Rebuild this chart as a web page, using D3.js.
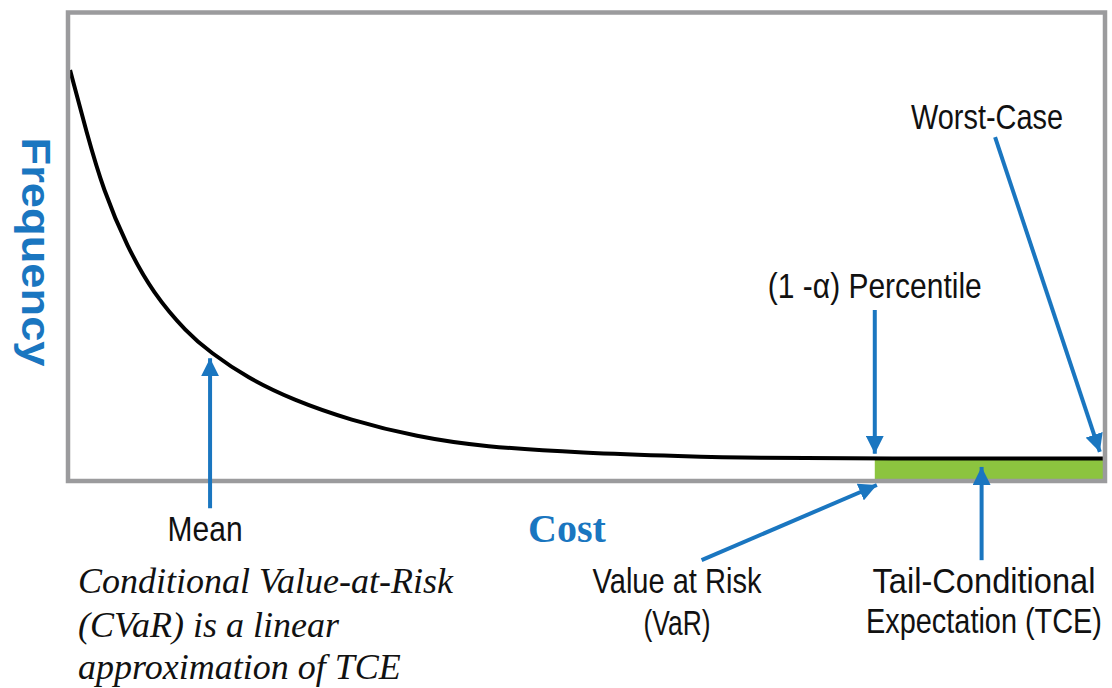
<!DOCTYPE html>
<html>
<head>
<meta charset="utf-8">
<script src="https://cdn.jsdelivr.net/npm/d3@7"></script>
<style>
  html, body { margin: 0; padding: 0; background: #fff; }
  svg { display: block; }
  .lbl { font-family: "Liberation Sans Narrow", "Arial Narrow", "Liberation Sans", sans-serif; fill: #111; }
</style>
</head>
<body>
<svg id="chart" width="1112" height="688"></svg>
<script>
// Loss distribution: cost (x) vs. frequency (y)
const costValues = [0.02, 0.18, 0.34, 0.57, 0.82, 1.15, 1.37, 1.73, 2.17, 2.72, 3.37, 4.0, 4.97, 5.93, 6.6, 7.78, 9.98];
const freqValues = [0.877, 0.743, 0.621, 0.50, 0.401, 0.316, 0.275, 0.22, 0.173, 0.130, 0.094, 0.073, 0.060, 0.053, 0.049, 0.048, 0.048];

// Key points on the cost axis
const meanCost = 1.37;
const varCost = 7.78;     // (1 - alpha) percentile
const worstCost = 10;
const tailHeight = 0.045; // height of the tail band

// Annotation arrows: start and tip, in (cost, frequency)
const arrowNames = ["mean", "percentile", "worst", "var", "tce"];
const arrowFrom = [[1.37, -0.058], [7.78, 0.365], [8.94, 0.734], [6.11, -0.169], [8.81, -0.169]];
const arrowTo   = [[1.37, 0.262], [7.78, 0.058], [9.95, 0.062], [7.80, -0.0085], [8.81, 0.030]];

// Label text lines
const meanLabel = ["Mean"];
const percentileLabel = ["(1 -\u03b1) Percentile"];
const worstLabel = ["Worst-Case"];
const varLabel = ["Value at Risk", "(VaR)"];
const tceLabel = ["Tail-Conditional", "Expectation (TCE)"];
const noteLines = ["Conditional Value-at-Risk", "(CVaR) is a linear", "approximation of TCE"];

const svg = d3.select("#chart");
const blue = "#1a76c0";

const x = d3.scaleLinear().domain([0, 10]).range([68, 1105]);
const y = d3.scaleLinear().domain([0, 1]).range([481, 12.5]);

// Tail band between VaR and worst case
svg.append("rect")
  .attr("x", x(varCost))
  .attr("y", y(tailHeight))
  .attr("width", x(worstCost) - x(varCost))
  .attr("height", y(0) - y(tailHeight))
  .attr("fill", "#8cc43f");

// Density curve
const line = d3.line()
  .x((d, i) => x(costValues[i]))
  .y(d => y(d))
  .curve(d3.curveBasis);

svg.append("path")
  .datum(freqValues)
  .attr("d", line)
  .attr("fill", "none")
  .attr("stroke", "#000")
  .attr("stroke-width", 4)
  .attr("stroke-linejoin", "round");

// Plot frame
svg.append("rect")
  .attr("x", x(0))
  .attr("y", y(1))
  .attr("width", x(10) - x(0))
  .attr("height", y(0) - y(1))
  .attr("fill", "none")
  .attr("stroke", "#9b9b9d")
  .attr("stroke-width", 4.5);

// Arrowhead
svg.append("defs").append("marker")
  .attr("id", "head")
  .attr("markerUnits", "userSpaceOnUse")
  .attr("viewBox", "0 0 18 18")
  .attr("refX", 18).attr("refY", 9)
  .attr("markerWidth", 18).attr("markerHeight", 18)
  .attr("orient", "auto")
  .append("path")
  .attr("d", "M0,0 L18,9 L0,18 Z")
  .attr("fill", blue);

svg.append("g").selectAll("line")
  .data(arrowNames)
  .join("line")
  .attr("x1", (d, i) => x(arrowFrom[i][0]))
  .attr("y1", (d, i) => y(arrowFrom[i][1]))
  .attr("x2", (d, i) => x(arrowTo[i][0]))
  .attr("y2", (d, i) => y(arrowTo[i][1]))
  .attr("stroke", blue)
  .attr("stroke-width", 4)
  .attr("marker-end", "url(#head)");

// Text labels: each line is narrowed horizontally to a condensed width
function label(lines, cx, baseline, gap, widths) {
  lines.forEach((s, i) => {
    const t = svg.append("text")
      .attr("class", "lbl")
      .attr("font-size", 35)
      .attr("text-anchor", "middle")
      .text(s);
    const natural = t.node().getComputedTextLength();
    const sx = widths[i] / natural;
    t.attr("transform", `translate(${cx},${baseline + i * gap}) scale(${sx},1)`);
  });
}
label(meanLabel, x(meanCost) - 5, 541, 0, [75]);
label(percentileLabel, x(varCost), 298, 0, [214]);
label(worstLabel, 987, 129, 0, [152]);
label(varLabel, 677, 593, 42, [169, 67]);
label(tceLabel, 984, 593, 40, [223, 236]);

// Axis titles
svg.append("text")
  .attr("x", 528).attr("y", 542)
  .attr("font-family", "'Liberation Serif', 'Times New Roman', serif")
  .attr("font-weight", "bold")
  .attr("font-size", 40)
  .attr("fill", blue)
  .text("Cost");

const freqTitle = svg.append("text")
  .attr("text-anchor", "middle")
  .attr("font-family", "'Liberation Sans', Arial, sans-serif")
  .attr("font-weight", "bold")
  .attr("font-size", 40)
  .attr("fill", blue)
  .text("Frequency");
const fsx = 229 / freqTitle.node().getComputedTextLength();
freqTitle.attr("transform", `translate(22,252) rotate(90) scale(${fsx},1)`);

// Note on CVaR
const note = svg.append("text")
  .attr("font-family", "'Liberation Serif', 'Times New Roman', serif")
  .attr("font-style", "italic")
  .attr("font-size", 36)
  .attr("fill", "#111");
noteLines.forEach((s, i) => {
  note.append("tspan").attr("x", 78).attr("y", [593, 637, 679][i]).text(s);
});
</script>
</body>
</html>
